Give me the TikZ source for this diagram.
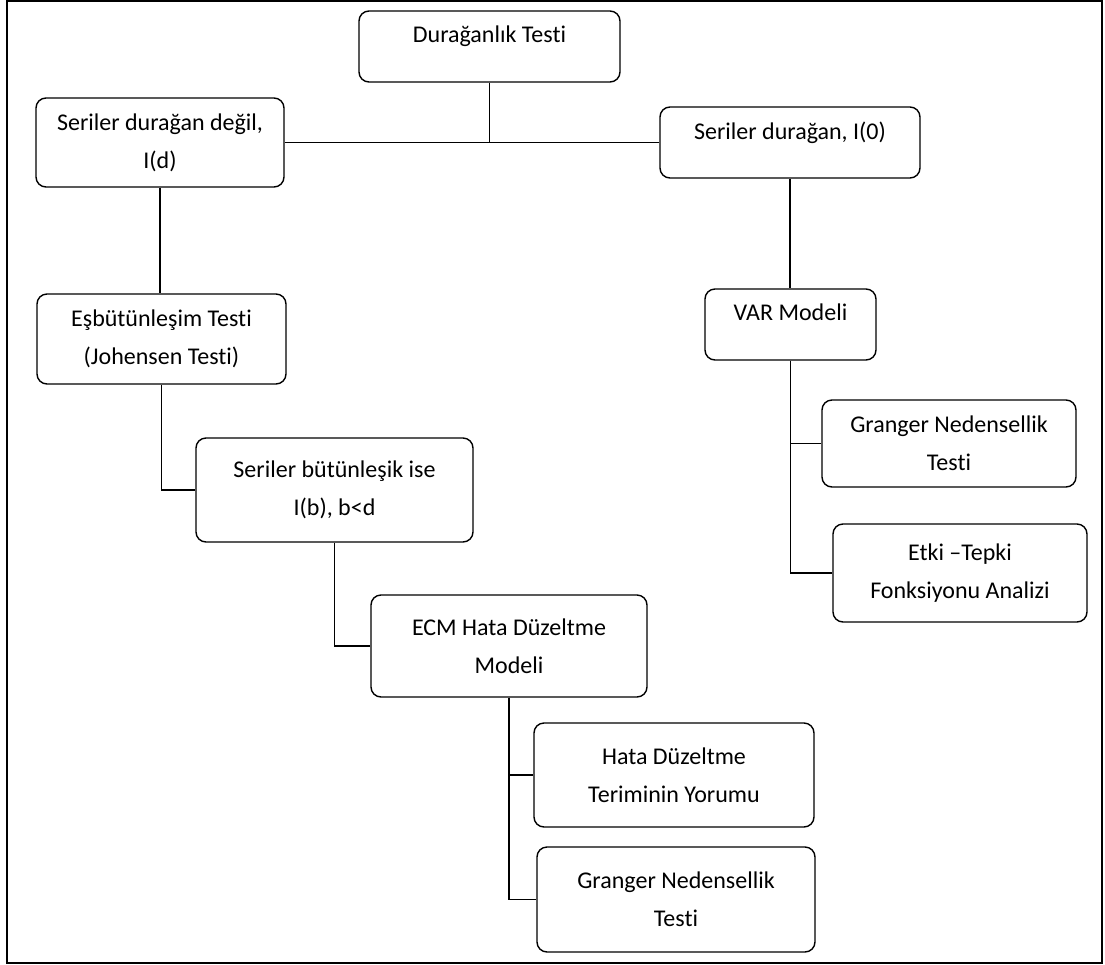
\documentclass[tikz,border=0pt]{standalone}
\usepackage{fontspec}
\setmainfont{Carlito}[Ligatures=NoCommon]
\usepackage{tikz}

\tikzset{
  box/.style={draw, rounded corners=5pt, line width=0.7pt, align=center,
    font=\fontsize{12pt}{19pt}\selectfont},
  oneline/.style={text depth=12pt},
  link/.style={line width=0.6pt}
}

\begin{document}
\begin{tikzpicture}[x=0.5pt, y=-0.5pt]
    \useasboundingbox (0,0) rectangle (1105,965);
    \draw[line width=1pt] (7,1) rectangle (1102,963);
    % Kok
    \node[box, oneline, minimum width=130.5pt, minimum height=35.5pt] (dur) at (489.5,46.5) {Durağanlık Testi};
    % Sol kol
    \node[box, minimum width=124pt, minimum height=44.5pt] (sdd) at (160,142.5) {Seriler durağan değil,\\ I(d)};
    \node[box, minimum width=124.5pt, minimum height=45pt] (esb) at (161.5,339) {Eşbütünleşim Testi\\ (Johensen Testi)};
    \node[box, minimum width=138.5pt, minimum height=52pt] (sbi) at (334.5,490) {Seriler bütünleşik ise\\ I(b), b<d};
    \node[box, minimum width=138pt, minimum height=51pt] (ecm) at (509,646) {ECM Hata Düzeltme\\ Modeli};
    \node[box, minimum width=140pt, minimum height=52pt] (hata) at (674,775) {Hata Düzeltme\\ Teriminin Yorumu};
    \node[box, minimum width=139pt, minimum height=52.5pt] (grb) at (676,899.5) {Granger Nedensellik\\ Testi};
    % Sag kol
    \node[box, oneline, minimum width=130pt, minimum height=35.5pt] (sd0) at (790,142.5) {Seriler durağan, I(0)};
    \node[box, oneline, minimum width=85.5pt, minimum height=35.5pt] (var) at (790.5,324.5) {VAR Modeli};
    \node[box, minimum width=127pt, minimum height=43.5pt] (gra) at (949,443.5) {Granger Nedensellik\\ Testi};
    \node[box, minimum width=127pt, minimum height=49pt] (etki) at (960,573) {Etki –Tepki\\ Fonksiyonu Analizi};
    % Baglantilar
    \draw[link] (dur.south) |- (sdd.east);
    \draw[link] (dur.south) |- (sd0.west);
    \draw[link] (sdd.south) -- (sdd.south |- esb.north);
    \draw[link] (esb.south) |- (sbi.west);
    \draw[link] (sbi.south) |- (ecm.west);
    \draw[link] (ecm.south) |- (hata.west);
    \draw[link] (ecm.south) |- (grb.west);
    \draw[link] (sd0.south) -- (sd0.south |- var.north);
    \draw[link] (var.south) |- (gra.west);
    \draw[link] (var.south) |- (etki.west);
\end{tikzpicture}
\end{document}
